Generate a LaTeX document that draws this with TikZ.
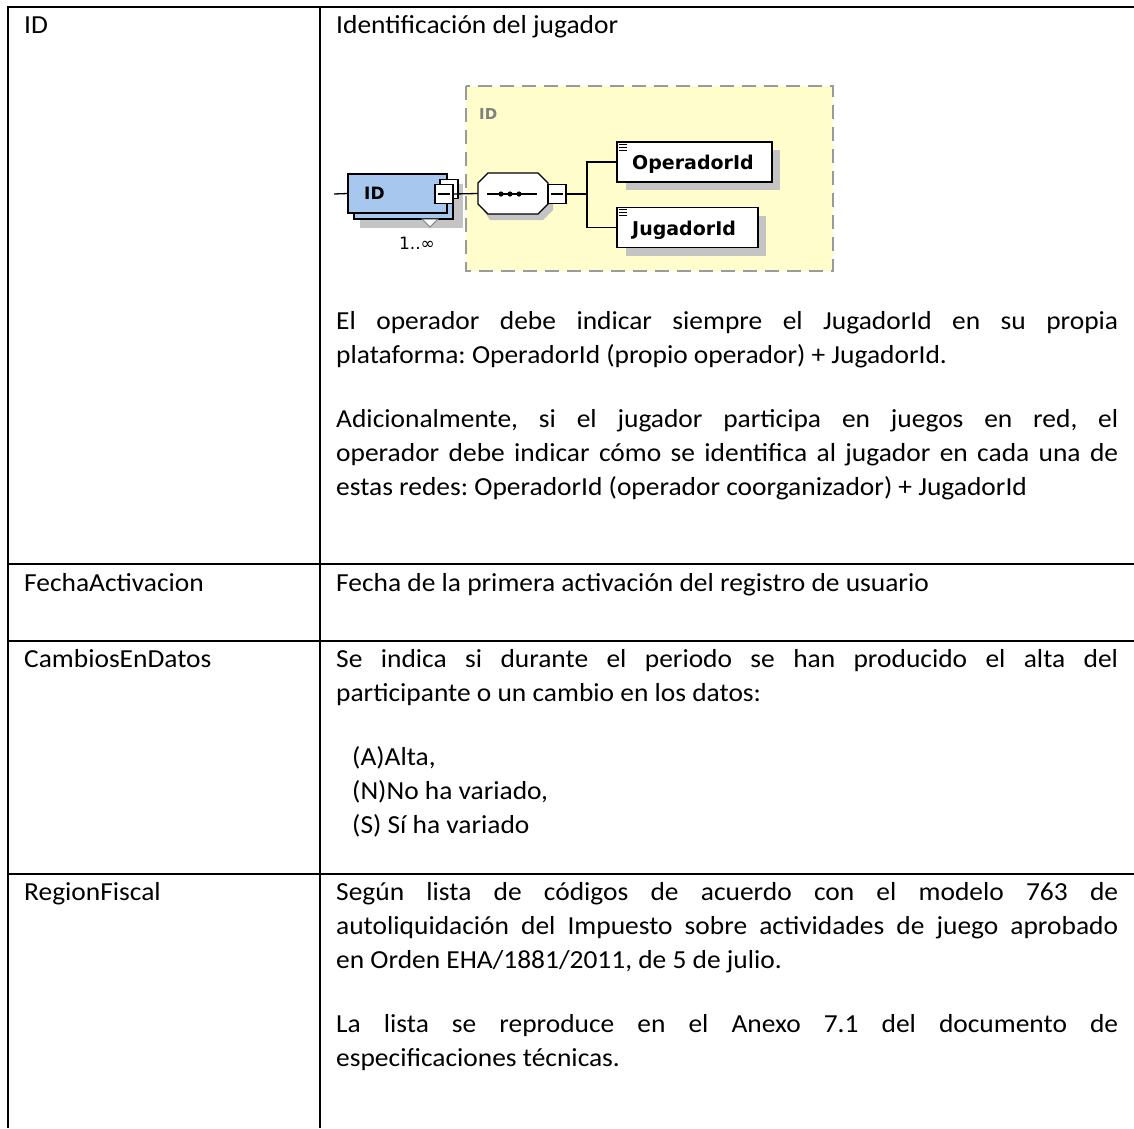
\documentclass[tikz,border=0pt]{standalone}
\usepackage{fontspec}
\setmainfont{Carlito}[FakeStretch=1.055]
\newfontfamily\dvb{DejaVu Sans}
\usetikzlibrary{calc}
\definecolor{xsyellow}{HTML}{FFFDCC}
\definecolor{xsblue}{HTML}{A7C7EE}
\definecolor{xsshadow}{HTML}{C4C4C4}
\definecolor{xsdash}{HTML}{9A9A9A}
\frenchspacing
\tikzset{
  grid/.style={line width=2pt, black},
  txt/.style={inner sep=0pt, anchor=base west, font=\frenchspacing\fontsize{26}{34}\selectfont},
  ktxt/.style={txt},
  jline/.style={txt},
  elem/.style={draw=black, line width=1.3pt, fill=white, minimum height=40pt, inner sep=0pt},
  sq/.style={draw=black, line width=1.2pt, fill=white, minimum width=18pt, minimum height=19pt, inner sep=0pt},
  conn/.style={line width=1.3pt, black},
  etxt/.style={inner sep=0pt, font=\dvb\bfseries\fontsize{19}{19}\selectfont},
}
\newcommand{\jl}[1]{\makebox[782pt][s]{#1}}
\begin{document}
\begin{tikzpicture}[x=1pt,y=-1pt]
\useasboundingbox (0,0) rectangle (1134,1128);
% table grid
\draw[grid] (8,7) -- (1134,7);
\draw[grid] (8,564) -- (1134,564);
\draw[grid] (8,641) -- (1134,641);
\draw[grid] (8,874) -- (1134,874);
\draw[grid] (8,6) -- (8,1128);
\draw[grid] (320,6) -- (320,1128);

% left column
\node[ktxt] (k1) at (24,33) {ID};
\node[ktxt] (k2) at (24,591) {FechaActivacion};
\node[ktxt] (k3) at (24,667) {CambiosEnDatos};
\node[ktxt] (k4) at (24,900) {RegionFiscal};

% right column row 1
\node[txt] (r1a) at (336,33) {Identificación del jugador};
\node[jline] (r1b) at (336,329) {\jl{El operador debe indicar siempre el JugadorId en su propia}};
\node[txt] (r1c) at (336,363) {plataforma: OperadorId (propio operador) + JugadorId.};
\node[jline] (r1d) at (336,427) {\jl{Adicionalmente, si el jugador participa en juegos en red, el}};
\node[jline] (r1e) at (336,461) {\jl{operador debe indicar cómo se identifica al jugador en cada una de}};
\node[txt] (r1f) at (336,495) {estas redes: OperadorId (operador coorganizador) + JugadorId};

% row 2
\node[txt] (r2a) at (336,591) {Fecha de la primera activación del registro de usuario};

% row 3
\node[jline] (r3a) at (336,667) {\jl{Se indica si durante el periodo se han producido el alta del}};
\node[txt] (r3b) at (336,701) {participante o un cambio en los datos:};
\node[txt] (r3c) at (352,765) {(A)Alta,};
\node[txt] (r3d) at (352,799) {(N)No ha variado,};
\node[txt] (r3e) at (352,833) {(S) Sí ha variado};

% row 4
\node[jline] (r4a) at (336,900) {\jl{Según lista de códigos de acuerdo con el modelo 763 de}};
\node[jline] (r4b) at (336,934) {\jl{autoliquidación del Impuesto sobre actividades de juego aprobado}};
\node[txt] (r4c) at (336,968) {en Orden EHA/1881/2011, de 5 de julio.};
\node[jline] (r4d) at (336,1032) {\jl{La lista se reproduce en el Anexo 7.1 del documento de}};
\node[txt] (r4e) at (336,1066) {especificaciones técnicas.};

% ---------- XML schema diagram ----------
\fill[xsyellow] (466,86) rectangle (833,271);
\draw[xsdash, line width=1.6pt, dash pattern=on 14pt off 8pt] (466,86) rectangle (833,271);
\node[anchor=west, inner sep=0pt, text=gray, font=\dvb\bfseries\fontsize{15}{15}\selectfont] (grp) at (479,114) {ID};

% ID element (repeated)
\fill[xsshadow] (360,184) rectangle (463,228);
\node[draw=black, line width=1.3pt, fill=xsblue, minimum width=99pt, minimum height=39pt, inner sep=0pt] (idback) at (403.5,199.5) {};
\node[draw=black, line width=1.3pt, fill=xsblue, minimum width=99pt, minimum height=39pt, inner sep=0pt] (idbox) at (397.5,193.5) {};
\node[anchor=west, inner sep=0pt, font=\dvb\bfseries\fontsize{17}{17}\selectfont] (idtxt) at (364,193.5) {ID};
\node[sq] (idsqb) at (449,189) {};
\node[sq] (idsq) at (444,194) {};
\draw[line width=1.2pt] ($(idsq.center)+(-6,0)$) -- ($(idsq.center)+(6,0)$);
\draw[line width=1pt, draw=gray, fill=white] (422,219) -- (438,219) -- (430,227) -- cycle;
\node[inner sep=0pt, font=\dvb\fontsize{17}{17}\selectfont] (card) at (417,243) {1..∞};
\coordinate (instub) at (334,194);
\draw[conn] (instub) -- (idbox.west);

% sequence compositor
\fill[xsshadow] (490,179) -- (543,179) -- (553,189) -- (553,210) -- (543,220) -- (490,220) -- (483,210) -- (483,189) -- cycle;
\node[minimum width=70pt, minimum height=41pt, inner sep=0pt] (seq) at (513,193.5) {};
\draw[line width=1.3pt, fill=white] (488,173) -- (538,173) -- (548,183) -- (548,204) -- (538,214) -- (488,214) -- (478,204) -- (478,183) -- cycle;
\draw[line width=1.3pt] (487,194) -- (537,194);
\foreach \xx in {501,510,519} \fill (\xx,194) circle (2.6pt);
\node[sq] (seqsq) at (557,194) {};
\draw[line width=1.2pt] ($(seqsq.center)+(-6,0)$) -- ($(seqsq.center)+(6,0)$);
\draw[conn] (idsq.east) -- (seq.west);

% child elements
\fill[xsshadow] (626,150) rectangle (780,190);
\fill[xsshadow] (626,216) rectangle (766,256);
\node[elem, minimum width=155pt] (op) at (694.5,162) {};
\node[elem, minimum width=141pt] (jug) at (687.5,227.5) {};
\node[etxt, anchor=west] (optxt) at (632,164) {OperadorId};
\node[etxt, anchor=west] (jugtxt) at (632,230) {JugadorId};
\foreach \nn in {op,jug}{
  \foreach \dy in {3,6,9} \draw[line width=0.8pt] ($(\nn.north west)+(3,\dy)$) -- ++(8,0);
}
\coordinate (br) at (587,194);
\draw[conn] (seqsq.east) -- (br);
\draw[conn] (op.west) -| (br) |- (jug.west);
\end{tikzpicture}
\end{document}
